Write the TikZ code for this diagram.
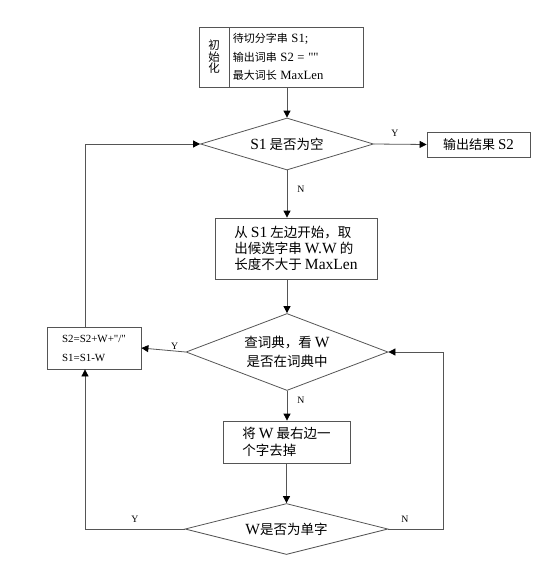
\documentclass[tikz,border=0pt]{standalone}
\usepackage{fontspec}
\setmainfont{Noto Sans CJK SC}
\newfontfamily\latin[Scale=1.15]{Liberation Serif}
\usetikzlibrary{arrows.meta, shapes.geometric, positioning}

\definecolor{linegray}{RGB}{85,85,85}
\newcommand{\entext}[1]{{\latin #1}}

\begin{document}
\begin{tikzpicture}[x=1pt, y=-1pt,
        box/.style={draw=linegray, line width=0.8pt, align=center, inner sep=0pt, font=\fontsize{13.5}{16}\selectfont},
        dec/.style={draw=linegray, diamond, line width=0.8pt, align=center, inner sep=0pt, font=\fontsize{13.5}{19}\selectfont},
        arr/.style={draw=linegray, line width=0.8pt, -{Triangle[length=7pt, width=7pt, color=black]}},
        lbl/.style={font=\latin\fontsize{8.5}{9}\selectfont, inner sep=1pt}
    ]
        \useasboundingbox (0,0) rectangle (546,565);

        \node[box, minimum width=30pt, minimum height=60pt, font=\fontsize{11.5}{11.5}\selectfont] (initl) at (214,57) {初\\始\\化};
        \node[box, minimum width=134pt, minimum height=60pt, text width=128pt, align=left, font=\fontsize{11}{18.5}\selectfont, right=0pt of initl] (initr) {待切分字串 \entext{S1;}\\输出词串 \entext{S2 = ""}\\最大词长 \entext{MaxLen}};

        \node[dec, aspect=3.3, minimum width=173pt, minimum height=52pt] (d1) at (287,144) {\entext{S1} 是否为空};
        \node[box, minimum width=103pt, minimum height=25pt, font=\fontsize{13}{16}\selectfont] (out) at (478.5,144.5) {输出结果 \entext{S2}};

        \node[box, minimum width=162pt, minimum height=61pt, align=left] (b2) at (296,248.5) {从 \entext{S1} 左边开始，取\\出候选字串 \entext{W.W} 的\\长度不大于 \entext{MaxLen}};

        \node[dec, aspect=2.6, minimum width=202pt, minimum height=77pt] (d2) at (287,352) {查词典，看 \entext{W}\\是否在词典中};
        \node[box, minimum width=94pt, minimum height=42pt, align=left, font=\latin\fontsize{9.5}{19}\selectfont] (upd) at (94,348) {S2=S2+W+"/"\\S1=S1-W};

        \node[box, minimum width=127pt, minimum height=42pt, align=left, font=\fontsize{13.5}{17}\selectfont] (b3) at (286.5,442) {将 \entext{W} 最右边一\\个字去掉};
        \node[dec, aspect=4, minimum width=203pt, minimum height=51pt] (d3) at (286.5,529) {\entext{W}是否为单字};

        \coordinate (lx) at (85,0);
        \coordinate (rx) at (443,0);

        \draw[arr] (d1.north |- initr.south) -- (d1.north);
        \draw[arr] (d1.east) -- (out.west) node[lbl, pos=0.4, above=6pt] {Y};
        \draw[arr] (d1.south) -- (d1.south |- b2.north) node[lbl, pos=0.4, right=9pt] {N};
        \draw[arr] (d2.north |- b2.south) -- (d2.north);
        \draw[arr] (d2.west) -- (upd.east) node[lbl, pos=0.25, above=0pt] {Y};
        \draw[arr] (d2.south) -- (d2.south |- b3.north) node[lbl, pos=0.3, right=9pt] {N};
        \draw[arr] (d3.north |- b3.south) -- (d3.north);

        \draw[arr] (upd.north -| lx) |- (d1.west);
        \draw[arr] (d3.west) -- node[lbl, pos=0.5, above=5pt] {Y} (d3.west -| lx) -- (upd.south -| lx);
        \draw[arr] (d3.east) -- node[lbl, pos=0.3, above=5pt] {N} (d3.east -| rx) -- (d2.east -| rx) -- (d2.east);
    \end{tikzpicture}
\end{document}
